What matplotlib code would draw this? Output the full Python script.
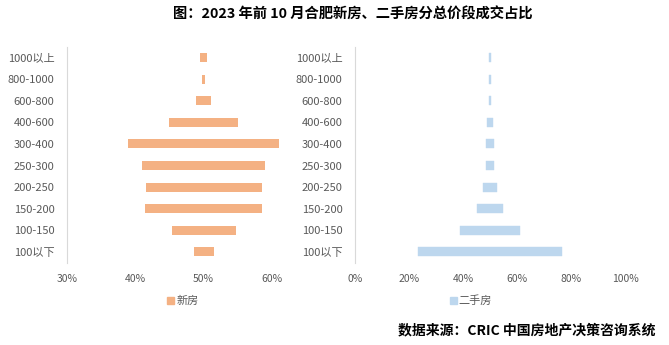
import matplotlib.pyplot as plt
from matplotlib.patches import Patch

plt.rcParams['font.family'] = ['Noto Sans CJK SC', 'DejaVu Sans']

# 总价段（万元），自上而下
categories = ['1000以上', '800-1000', '600-800', '400-600', '300-400',
              '250-300', '200-250', '150-200', '100-150', '100以下']
# 成交占比
new_share = [0.010, 0.0035, 0.023, 0.102, 0.220, 0.180, 0.170, 0.171, 0.094, 0.029]
used_share = [0.004, 0.004, 0.0075, 0.022, 0.033, 0.030, 0.052, 0.096, 0.222, 0.533]

new_ticks = [0.3, 0.4, 0.5, 0.6]
used_ticks = [0, 0.2, 0.4, 0.6, 0.8, 1.0]

NEW_COLOR = '#F4B183'
USED_COLOR = '#BDD7EE'
GRAY = '#595959'

W, H = 669, 345
fig = plt.figure(figsize=(W / 100, H / 100), dpi=100)

y_pos = list(range(len(categories)))[::-1]


def setup(ax, xlim, ticks):
    ax.set_xlim(*xlim)
    ax.set_ylim(-0.5, len(categories) - 0.5)
    ax.set_xticks(ticks)
    ax.set_xticklabels([f"{round(t * 100)}%" for t in ticks])
    ax.set_yticks(y_pos)
    ax.set_yticklabels(categories)
    for s in ['top', 'right', 'bottom']:
        ax.spines[s].set_visible(False)
    ax.spines['left'].set_color('#D9D9D9')
    ax.tick_params(axis='both', length=0, colors=GRAY)
    ax.tick_params(axis='x', labelsize=7.5, pad=8)
    ax.tick_params(axis='y', labelsize=8, pad=9)


ax1 = fig.add_axes([67 / W, 82.3 / H, 218.6 / W, 216 / H])
left_new = [0.5 - s / 2 for s in new_share]
ax1.barh(y_pos, new_share, left=left_new, height=0.42, color=NEW_COLOR, clip_on=False)
setup(ax1, (0.3, 0.62), new_ticks)

ax2 = fig.add_axes([355 / W, 82.3 / H, 270 / W, 216 / H])
left_used = [0.5 - s / 2 for s in used_share]
ax2.barh(y_pos, used_share, left=left_used, height=0.42, color=USED_COLOR,
         edgecolor=USED_COLOR, linewidth=0.3)
setup(ax2, (0, 1.0), used_ticks)

for ax, label, color, cx in [(ax1, '新房', NEW_COLOR, 183 / W), (ax2, '二手房', USED_COLOR, 471 / W)]:
    ax.legend(handles=[Patch(color=color, label=label)], loc='center',
              bbox_to_anchor=(cx, 1 - 301 / H), bbox_transform=fig.transFigure,
              frameon=False, handlelength=0.6, handleheight=0.6, handletextpad=0.2,
              labelcolor=GRAY, prop={'size': 8})

fig.text(353 / W, 1 - 15 / H, '图：2023 年前 10 月合肥新房、二手房分总价段成交占比',
         ha='center', va='center', fontsize=10.3, fontweight='bold', color='black')
fig.text(655 / W, 1 - 330 / H, '数据来源：CRIC 中国房地产决策咨询系统',
         ha='right', va='center', fontsize=10, fontweight='bold', color='black')

fig.savefig('out.png', dpi=100)
